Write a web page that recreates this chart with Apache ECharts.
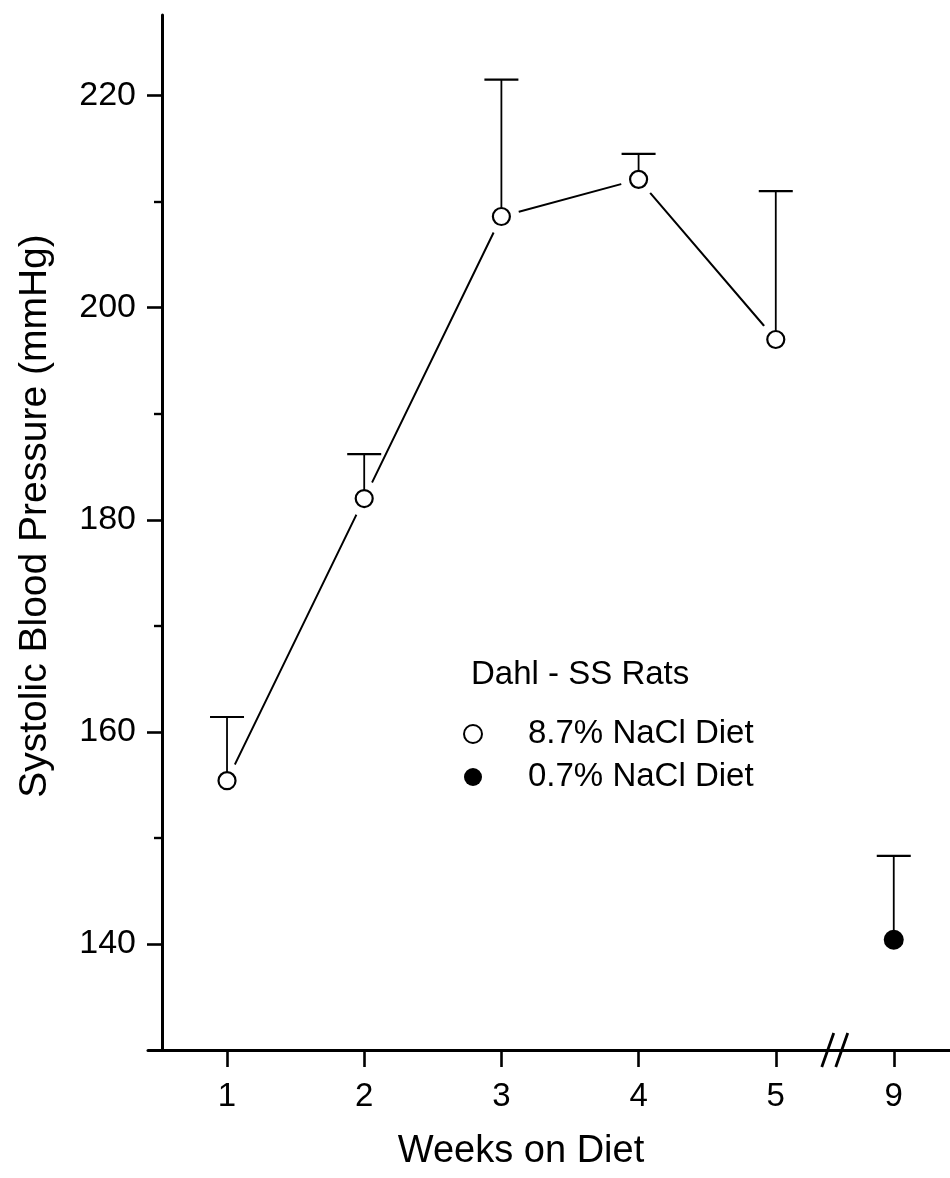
<!DOCTYPE html>
<html>
<head>
<meta charset="utf-8">
<script src="https://cdn.jsdelivr.net/npm/echarts@6/dist/echarts.min.js"></script>
<style>
  html, body { margin: 0; padding: 0; background: #ffffff; }
  #chart { width: 950px; height: 1178px; }
</style>
</head>
<body>
<div id="chart"></div>
<script>
// Weeks on diet shown on the horizontal axis (broken between week 5 and week 9)
const weeks = [1, 2, 3, 4, 5, 9];
const weekLabels = ['1', '2', '3', '4', '5', '9'];

// Dahl salt-sensitive rats, 8.7% NaCl diet: mean and upper error bar (mmHg)
const highSaltWeeks = [1, 2, 3, 4, 5];
const highSaltMean = [155.4, 182.0, 208.6, 212.1, 197.0];
const highSaltUpper = [161.4, 186.2, 221.5, 214.5, 211.0];

// Dahl salt-sensitive rats, 0.7% NaCl diet
const lowSaltWeeks = [9];
const lowSaltMean = [140.4];
const lowSaltUpper = [148.3];

// Vertical axis ticks
const yLabelValues = [140, 160, 180, 200, 220];
const yMinorTickValues = [150, 170, 190, 210];

const seriesNames = ['8.7% NaCl Diet', '0.7% NaCl Diet'];
const legendTitle = 'Dahl - SS Rats';
const xTitle = 'Weeks on Diet';
const yTitle = 'Systolic Blood Pressure (mmHg)';

// Axis break: weeks after BREAK_AFTER are shifted so BREAK_RESUME sits BREAK_SPAN after it
const BREAK_AFTER = 5;
const BREAK_RESUME = 9;
const BREAK_SPAN = 0.86;
const axisPos = w => (w > BREAK_AFTER ? BREAK_AFTER + BREAK_SPAN + (w - BREAK_RESUME) : w);
const breakMarkPos = BREAK_AFTER + BREAK_SPAN / 2;

const FONT = "'Liberation Sans', Arial, Helvetica, sans-serif";
const tickPositions = weeks.map(axisPos);

function weekLabelAt(v) {
  const i = tickPositions.findIndex(p => Math.abs(p - v) < 1e-6);
  return i >= 0 ? weekLabels[i] : '';
}

const highSaltPoints = highSaltWeeks.map((w, i) => [axisPos(w), highSaltMean[i]]);
const highSaltErr = highSaltWeeks.map((w, i) => [axisPos(w), highSaltMean[i], highSaltUpper[i]]);
const lowSaltPoints = lowSaltWeeks.map((w, i) => [axisPos(w), lowSaltMean[i]]);
const lowSaltErr = lowSaltWeeks.map((w, i) => [axisPos(w), lowSaltMean[i], lowSaltUpper[i]]);

// Upper-only error bar: stem from the mean up to the cap
function renderErrorBar(params, api) {
  const x = api.value(0);
  const base = api.coord([x, api.value(1)]);
  const top = api.coord([x, api.value(2)]);
  const half = 17;
  return {
    type: 'group',
    children: [
      { type: 'line', shape: { x1: base[0], y1: base[1], x2: top[0], y2: top[1] },
        style: { stroke: '#000', lineWidth: 1.8, fill: null } },
      { type: 'line', shape: { x1: top[0] - half, y1: top[1], x2: top[0] + half, y2: top[1] },
        style: { stroke: '#000', lineWidth: 2.2 } }
    ]
  };
}

// "//" mark on the horizontal axis at the break
function renderBreakMark(params, api) {
  const c = api.coord([api.value(0), api.value(1)]);
  const dx = 7, h = 17, lean = 6;
  return {
    type: 'group',
    children: [-1, 1].map(s => ({
      type: 'line',
      shape: { x1: c[0] + s * dx - lean, y1: c[1] + h, x2: c[0] + s * dx + lean, y2: c[1] - h },
      style: { stroke: '#000', lineWidth: 2.8 }
    }))
  };
}

const chart = echarts.init(document.getElementById('chart'), null, { renderer: 'canvas' });

const yAxisBase = {
  type: 'value',
  min: 130,
  max: 227.6,
  interval: 10,
  position: 'left',
  offset: -14,
  splitLine: { show: false }
};

chart.setOption({
  backgroundColor: '#ffffff',
  animation: false,
  textStyle: { fontFamily: FONT, color: '#000' },
  title: {
    text: legendTitle,
    left: 471,
    top: 656,
    padding: 0,
    textStyle: { fontFamily: FONT, fontSize: 33, fontWeight: 'normal', color: '#000', lineHeight: 38 }
  },
  legend: {
    data: seriesNames,
    orient: 'vertical',
    left: 463,
    top: 715,
    padding: 0,
    itemWidth: 18,
    itemHeight: 18,
    itemGap: 5,
    icon: 'circle',
    formatter: name => '{g|}' + name,
    textStyle: {
      fontFamily: FONT, fontSize: 33, color: '#000', lineHeight: 38,
      rich: { g: { width: 41 } }
    }
  },
  grid: { left: 148, right: 0, top: 15, bottom: 128, containLabel: false },
  xAxis: {
    type: 'value',
    min: 0.424,
    max: 6.27,
    splitLine: { show: false },
    axisLine: { show: true, lineStyle: { color: '#000', width: 3 } },
    axisTick: { show: true, customValues: tickPositions, length: 17, lineStyle: { color: '#000', width: 2.6 } },
    axisLabel: {
      show: true,
      customValues: tickPositions,
      formatter: weekLabelAt,
      margin: 30,
      fontFamily: FONT, fontSize: 33, color: '#000'
    }
  },
  yAxis: [
    Object.assign({}, yAxisBase, {
      axisLine: { show: true, onZero: false, lineStyle: { color: '#000', width: 3 } },
      axisTick: { show: true, customValues: yLabelValues, length: 15, lineStyle: { color: '#000', width: 2.6 } },
      axisLabel: {
        show: true, customValues: yLabelValues, margin: 26,
        fontFamily: FONT, fontSize: 34, color: '#000'
      }
    }),
    Object.assign({}, yAxisBase, {
      axisLine: { show: false },
      axisTick: { show: true, customValues: yMinorTickValues, length: 8, lineStyle: { color: '#000', width: 2.4 } },
      axisLabel: { show: false }
    })
  ],
  graphic: [
    {
      type: 'text', x: 521, y: 1152,
      style: { text: xTitle, x: 0, y: 0, align: 'center', verticalAlign: 'middle',
        font: '38px ' + FONT, fill: '#000' }
    },
    {
      type: 'text', x: 35, y: 516, rotation: Math.PI / 2,
      style: { text: yTitle, x: 0, y: 0, align: 'center', verticalAlign: 'middle',
        font: '39px ' + FONT, fill: '#000' }
    }
  ],
  series: [
    {
      type: 'line',
      data: highSaltPoints,
      symbol: 'none',
      lineStyle: { color: '#000', width: 2 },
      silent: true,
      z: 1
    },
    {
      // white halo leaves a gap between the connecting line and each marker
      type: 'scatter',
      data: highSaltPoints,
      symbol: 'circle',
      symbolSize: 36,
      itemStyle: { color: '#ffffff', opacity: 1 },
      silent: true,
      z: 2
    },
    {
      type: 'custom',
      data: highSaltErr,
      renderItem: renderErrorBar,
      encode: { x: 0, y: [1, 2] },
      silent: true,
      z: 3
    },
    {
      name: seriesNames[0],
      type: 'scatter',
      data: highSaltPoints,
      symbol: 'circle',
      symbolSize: 17,
      itemStyle: { color: '#ffffff', borderColor: '#000', borderWidth: 2.2, opacity: 1 },
      z: 4
    },
    {
      type: 'custom',
      data: lowSaltErr,
      renderItem: renderErrorBar,
      encode: { x: 0, y: [1, 2] },
      silent: true,
      z: 3
    },
    {
      name: seriesNames[1],
      type: 'scatter',
      data: lowSaltPoints,
      symbol: 'circle',
      symbolSize: 20,
      itemStyle: { color: '#000', borderColor: '#000', borderWidth: 0, opacity: 1 },
      z: 4
    },
    {
      type: 'custom',
      data: [[breakMarkPos, 130]],
      renderItem: renderBreakMark,
      encode: { x: 0, y: 1 },
      clip: false,
      silent: true,
      z: 5
    }
  ]
});
</script>
</body>
</html>
